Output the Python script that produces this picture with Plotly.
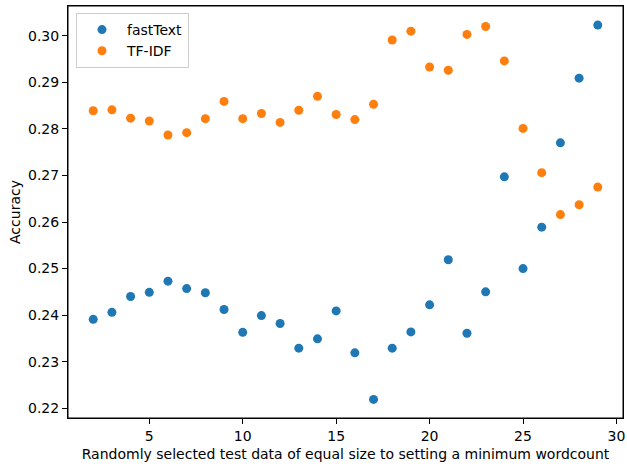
import plotly.graph_objects as go

x_vals = list(range(2, 30))
fasttext = [0.2391, 0.2406, 0.2440, 0.2449, 0.2473, 0.2457, 0.2448, 0.2412, 0.2363, 0.2399,
            0.2382, 0.2329, 0.2349, 0.2409, 0.2319, 0.2219, 0.2329, 0.2364, 0.2422, 0.2519,
            0.2361, 0.2450, 0.2697, 0.2500, 0.2589, 0.2770, 0.2909, 0.3023]
tfidf = [0.2839, 0.2841, 0.2823, 0.2817, 0.2787, 0.2792, 0.2822, 0.2859, 0.2822, 0.2833,
         0.2814, 0.2840, 0.2870, 0.2831, 0.2820, 0.2853, 0.2991, 0.3010, 0.2933, 0.2926,
         0.3003, 0.3020, 0.2946, 0.2801, 0.2706, 0.2616, 0.2637, 0.2675]
x_ticks = [5, 10, 15, 20, 25, 30]
y_ticks = [0.22, 0.23, 0.24, 0.25, 0.26, 0.27, 0.28, 0.29, 0.30]

fig = go.Figure()
fig.add_trace(go.Scatter(x=x_vals, y=fasttext, mode="markers", name="fastText",
                         marker=dict(color="#1f77b4", size=9, line=dict(width=0))))
fig.add_trace(go.Scatter(x=x_vals, y=tfidf, mode="markers", name="TF-IDF",
                         marker=dict(color="#ff7f0e", size=9, line=dict(width=0))))

axis_common = dict(showline=True, linecolor="black", linewidth=1, mirror=True,
                   ticks="outside", ticklen=5, tickcolor="black", showgrid=False,
                   zeroline=False, automargin=False,
                   tickfont=dict(family="DejaVu Sans", size=14, color="black"))

fig.update_layout(
    width=627, height=470,
    margin=dict(l=68, r=4, t=6, b=52),
    plot_bgcolor="white", paper_bgcolor="white",
    font=dict(family="DejaVu Sans", size=14, color="black"),
    xaxis=dict(range=[0.65, 30.35], tickvals=x_ticks,
               title=dict(text="Randomly selected test data of equal size to setting a minimum wordcount",
                          font=dict(size=14), standoff=6),
               **axis_common),
    yaxis=dict(range=[0.2179, 0.3064], tickvals=y_ticks, tickformat=".2f",
               title=dict(text="Accuracy", font=dict(size=14), standoff=4),
               **axis_common),
    legend=dict(x=0.0144, y=0.983, xanchor="left", yanchor="top",
                bgcolor="rgba(255,255,255,0.8)", bordercolor="#cccccc", borderwidth=1,
                font=dict(size=14), itemwidth=40, tracegroupgap=0),
    showlegend=True,
)
# axes frame (matplotlib-style spines on all four sides)
fig.add_shape(type="rect", xref="x domain", yref="y domain", x0=0, x1=1, y0=0, y1=1,
              line=dict(color="black", width=1), fillcolor="rgba(0,0,0,0)", layer="above")

fig.write_html("out.html",
               config={"displayModeBar": False},
               post_script="document.body.style.margin='0';document.body.style.overflow='hidden';")
